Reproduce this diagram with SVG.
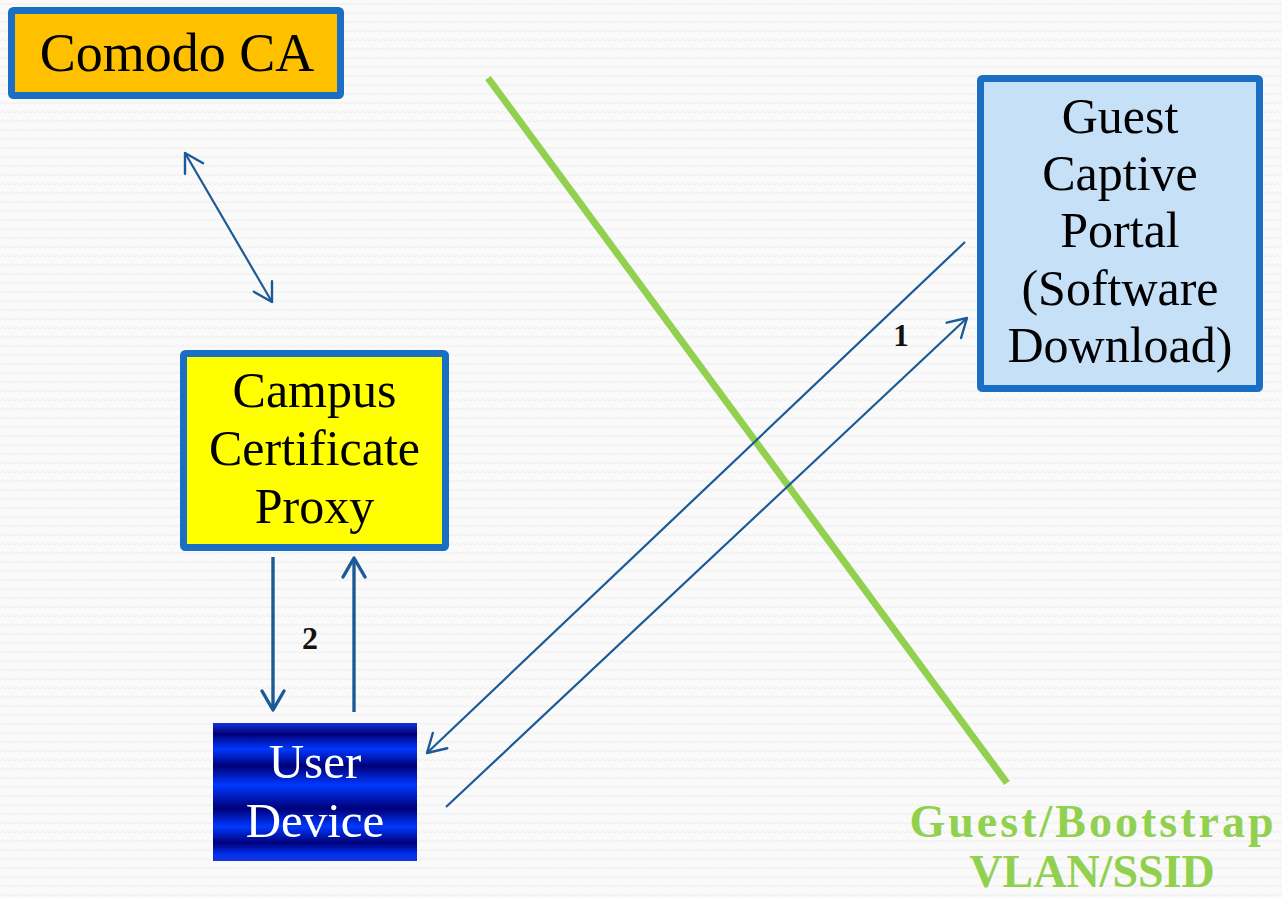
<svg xmlns="http://www.w3.org/2000/svg" width="1282" height="898" viewBox="0 0 1282 898">
  <defs>
    <style>
      .box { stroke: #1A6FC4; stroke-width: 7; }
      .label { font-family: "Liberation Serif", "Times New Roman", serif; text-anchor: middle; fill: #000; }
      .light { fill: #FFFFFF; }
      .conn { fill: none; stroke: #1B5A96; stroke-width: 2.2; }
      .conn-thick { fill: none; stroke: #1B5A96; stroke-width: 3.4; }
      .num { font-family: "Liberation Serif", "Times New Roman", serif; font-weight: bold; text-anchor: middle; fill: #111; }
      .vlan { font-family: "Liberation Serif", "Times New Roman", serif; font-weight: bold; text-anchor: middle; fill: #92D050; font-size: 46px; }
    </style>
    <pattern id="weave" width="10" height="9" patternUnits="userSpaceOnUse">
      <rect width="10" height="9" fill="#FAFAFA"/>
      <path d="M0,5 L2.5,3 L5,5 L7.5,3 L10,5" fill="none" stroke="#EDEDED" stroke-width="1"/>
    </pattern>
    <linearGradient id="deviceFill" x1="0" y1="0" x2="0" y2="1">
      <stop offset="0" stop-color="#1434D8"/>
      <stop offset="0.08" stop-color="#000078"/>
      <stop offset="0.19" stop-color="#0038FF"/>
      <stop offset="0.31" stop-color="#000078"/>
      <stop offset="0.45" stop-color="#0038FF"/>
      <stop offset="0.62" stop-color="#000078"/>
      <stop offset="0.75" stop-color="#0038FF"/>
      <stop offset="0.87" stop-color="#000078"/>
      <stop offset="0.95" stop-color="#0030F0"/>
      <stop offset="1" stop-color="#1434D8"/>
    </linearGradient>
    <marker id="chevron" markerUnits="userSpaceOnUse" markerWidth="24" markerHeight="24" refX="20" refY="12" orient="auto-start-reverse" overflow="visible">
      <path d="M2,1.5 L20,12 L2,22.5" fill="none" stroke="#1B5A96" stroke-width="2.4" stroke-linecap="round" stroke-linejoin="round"/>
    </marker>
    <marker id="chevronThick" markerUnits="userSpaceOnUse" markerWidth="24" markerHeight="26" refX="20" refY="13" orient="auto" overflow="visible">
      <path d="M1,2 L20,13 L1,24" fill="none" stroke="#1B5A96" stroke-width="3.4" stroke-linecap="round" stroke-linejoin="round"/>
    </marker>
  </defs>

  <!-- background -->
  <rect x="0" y="0" width="1282" height="898" fill="url(#weave)"/>

  <!-- network boundary of the guest / bootstrap segment -->
  <g id="vlan-boundary">
    <line x1="488" y1="78" x2="1007" y2="783" stroke="#92D050" stroke-width="7"/>
    <text class="vlan" x="1093" y="837" letter-spacing="3">Guest/Bootstrap</text>
    <text class="vlan" x="1092" y="887">VLAN/SSID</text>
  </g>

  <!-- connectors -->
  <g id="connectors">
    <path class="conn" d="M185,153 L272,302" marker-start="url(#chevron)" marker-end="url(#chevron)"/>
    <path class="conn-thick" d="M273,557 L273,710" marker-end="url(#chevronThick)"/>
    <path class="conn-thick" d="M354,712 L354,558" marker-end="url(#chevronThick)"/>
    <path class="conn" d="M965,242 L427,753" marker-end="url(#chevron)"/>
    <path class="conn" d="M446,807 L967,318" marker-end="url(#chevron)"/>
    <text class="num" x="310" y="649" font-size="32">2</text>
    <text class="num" x="901" y="346" font-size="31">1</text>
  </g>

  <!-- nodes -->
  <g id="comodo-ca">
    <rect class="box" x="11.5" y="10.5" width="329" height="85" rx="2" fill="#FFC000"/>
    <text class="label" x="177" y="71" font-size="54">Comodo CA</text>
  </g>

  <g id="campus-proxy">
    <rect class="box" x="183.5" y="353.5" width="262" height="194" rx="2" fill="#FFFF00"/>
    <text class="label" x="314.5" y="407" font-size="50">Campus</text>
    <text class="label" x="314.5" y="465" font-size="50">Certificate</text>
    <text class="label" x="314.5" y="523" font-size="50">Proxy</text>
  </g>

  <g id="user-device">
    <rect x="213" y="723" width="204" height="138" fill="url(#deviceFill)"/>
    <text class="label light" x="315" y="778" font-size="49">User</text>
    <text class="label light" x="315" y="837" font-size="49">Device</text>
  </g>

  <g id="guest-portal">
    <rect class="box" x="980.5" y="78.5" width="279" height="310" rx="2" fill="#C6E0F8"/>
    <text class="label" x="1120" y="133" font-size="50">Guest</text>
    <text class="label" x="1120" y="190" font-size="50">Captive</text>
    <text class="label" x="1120" y="247" font-size="50">Portal</text>
    <text class="label" x="1120" y="305" font-size="50">(Software</text>
    <text class="label" x="1120" y="362" font-size="50">Download)</text>
  </g>
</svg>
